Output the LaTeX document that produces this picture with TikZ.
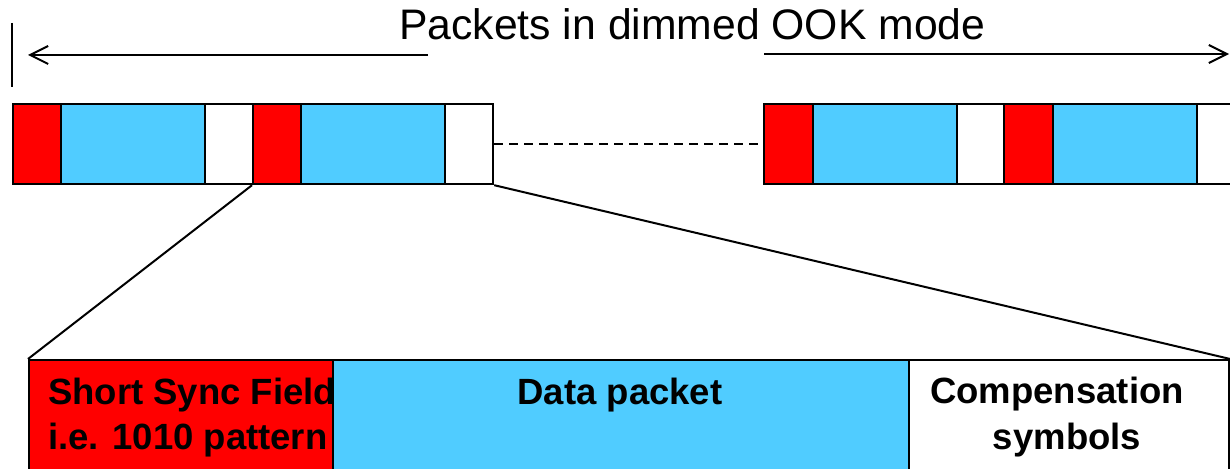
\documentclass[tikz,border=0pt]{standalone}
\usepackage{fontspec}
\setmainfont{Liberation Sans}
\usetikzlibrary{arrows.meta}
\definecolor{syncred}{HTML}{FF0000}
\definecolor{datablue}{HTML}{50CCFF}
\begin{document}
\begin{tikzpicture}[x=1pt,y=-1pt,
  field/.style={draw=black,line width=2.2pt,rectangle,inner sep=0pt,anchor=north west,minimum height=#1},
  field/.default=80pt,
  syncf/.style={field,fill=syncred},
  dataf/.style={field,fill=datablue},
  compf/.style={field,fill=white},
  lbl/.style={inner sep=0pt,font=\fontsize{36.5}{45}\bfseries\selectfont},
  conn/.style={line width=2pt},
  dimarrow/.style={line width=2pt,-{Straight Barb[length=18pt,width=18pt,line width=2pt]}}
]
\useasboundingbox (0,0) rectangle (1230,468);
\clip (0,0) rectangle (1230,468);
\fill[white] (0,0) rectangle (1230,468);

% title and arrows
\node[inner sep=0pt,anchor=base west,font=\fontsize{42.7}{50}\selectfont] (title) at (399,40) {Packets in dimmed OOK mode};
\coordinate (tick1) at (12,23);
\coordinate (tick2) at (12,87);
\draw[conn] (tick1) -- (tick2);
\coordinate (la) at (428,55);
\coordinate (lb) at (28,55);
\draw[dimarrow] (la) -- (lb);
\coordinate (ra) at (764,54);
\coordinate (rb) at (1229,54);
\draw[dimarrow] (ra) -- (rb);

% top-left packets
\node[syncf,minimum width=48pt] (s1) at (12,103) {};
\node[dataf,minimum width=144pt] (d1) at (60,103) {};
\node[compf,minimum width=48pt] (c1) at (204,103) {};
\node[syncf,minimum width=48pt] (s2) at (252,103) {};
\node[dataf,minimum width=144pt] (d2) at (300,103) {};
\node[compf,minimum width=48pt] (c2) at (444,103) {};

% top-right packets
\node[syncf,minimum width=49pt] (s3) at (763,103) {};
\node[dataf,minimum width=144pt] (d3) at (812,103) {};
\node[compf,minimum width=47pt] (c3) at (956,103) {};
\node[syncf,minimum width=49pt] (s4) at (1003,103) {};
\node[dataf,minimum width=144pt] (d4) at (1052,103) {};
\node[compf,minimum width=60pt] (c4) at (1196,103) {};

\draw[conn,line width=1.5pt,dash pattern=on 9pt off 6pt] (c2.east) -- (s3.west);

% expanded packet
\node[syncf,minimum width=304pt,minimum height=130pt] (sync) at (28,359) {};
\node[lbl,anchor=base west] (synct1) at (48,404) {Short Sync Field};
\node[lbl,anchor=base west] (synct2) at (48,449) {i.e. 1010 pattern};
\node[dataf,minimum width=576pt,minimum height=130pt] (data) at (332,359) {};
\node[lbl,anchor=base] (datat) at (620,404) {Data packet};
\node[compf,minimum width=320pt,minimum height=130pt] (comp) at (908,359) {};
\node[lbl,anchor=base] (compt1) at (1057,403) {Compensation};
\node[lbl,anchor=base] (compt2) at (1067,449) {symbols};

\draw[conn] (s2.south west) -- (sync.north west);
\draw[conn] (c2.south east) -- (comp.north east);
\end{tikzpicture}
\end{document}
